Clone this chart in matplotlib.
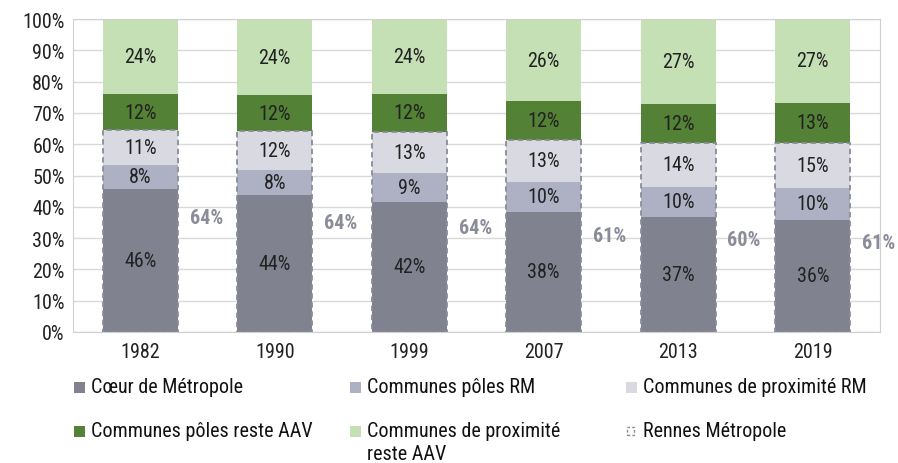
import matplotlib
matplotlib.use("Agg")
import matplotlib.pyplot as plt
from matplotlib.patches import Rectangle
import numpy as np

plt.rcParams['font.family'] = ['Roboto Condensed', 'IBM Plex Sans Condensed', 'DejaVu Sans']

years = ['1982', '1990', '1999', '2007', '2013', '2019']
coeur = [45.6, 43.8, 41.6, 38.4, 36.8, 35.9]
poles_rm = [7.9, 8.0, 9.3, 9.6, 9.6, 10.0]
prox_rm = [10.9, 12.4, 13.1, 13.4, 14.0, 14.6]
poles_aav = [11.6, 11.5, 12.1, 12.3, 12.3, 12.7]
prox_aav = [24.0, 24.3, 23.9, 26.3, 27.3, 26.8]
rennes = [64, 64, 64, 61, 60, 61]

series = [
    ('Cœur de Métropole', coeur, '#80838f'),
    ('Communes pôles RM', poles_rm, '#aeb0c4'),
    ('Communes de proximité RM', prox_rm, '#d9dae1'),
    ('Communes pôles reste AAV', poles_aav, '#538135'),
    ('Communes de proximité\nreste AAV', prox_aav, '#c5e0b4'),
]
rennes_color = '#8a8d99'
FS = 14.5

W, H = 898, 464
fig = plt.figure(figsize=(W / 100, H / 100), dpi=100)
ax = fig.add_axes([73 / W, 1 - 333 / H, (880 - 73) / W, (333 - 20) / H])

x = np.arange(len(years))
bw = 0.56
bottom = np.zeros(len(years))
for name, vals, col in series:
    vals = np.array(vals)
    ax.bar(x, vals, bw, bottom=bottom, color=col, zorder=2)
    for xi, b, v in zip(x, bottom, vals):
        ax.text(xi, b + v / 2, '%d%%' % round(v), ha='center', va='center',
                fontsize=FS, color='#222222', zorder=4)
    bottom += vals

# Rennes Métropole outline (first three groups)
rm_total = np.array(coeur) + np.array(poles_rm) + np.array(prox_rm)
ax.bar(x, rm_total, bw, facecolor='none', edgecolor=rennes_color,
       linestyle=(0, (3, 2)), linewidth=1.3, zorder=3)
for xi, v, c in zip(x, rennes, coeur):
    ax.text(xi + 0.49, c * 0.8, '%d%%' % v, ha='center', va='center',
            fontsize=FS, fontweight='bold', color=rennes_color, zorder=4,
            clip_on=False)

ax.set_xlim(-0.5, len(years) - 0.5)
ax.set_ylim(0, 100)
ax.set_yticks(np.arange(0, 101, 10))
ax.set_yticklabels(['%d%%' % t for t in range(0, 101, 10)])
ax.set_xticks(x)
ax.set_xticklabels(years)
ax.tick_params(axis='both', length=0, labelsize=FS, colors='#222222')
ax.tick_params(axis='x', pad=7)
ax.tick_params(axis='y', pad=6)
ax.grid(True, axis='y', color='#d9d9d9', lw=1, zorder=0)
ax.set_axisbelow(True)
for s in ax.spines.values():
    s.set_color('#d0d0d0')

# legend, laid out by hand like the original
cols = [74, 350, 626]
rows = [388, 432]
entries = [(s[0], s[2]) for s in series] + [('Rennes Métropole', None)]
for k, (name, col) in enumerate(entries):
    cx = cols[k % 3]
    cy = rows[k // 3]
    if col is not None:
        fig.patches.append(Rectangle((cx / W, 1 - (cy + 5.5) / H), 11 / W, 11 / H,
                                     transform=fig.transFigure, facecolor=col,
                                     edgecolor='none'))
    else:
        fig.patches.append(Rectangle(((cx + 1) / W, 1 - (cy + 4) / H), 7 / W, 8 / H,
                                     transform=fig.transFigure, facecolor='none',
                                     edgecolor=rennes_color, lw=1,
                                     linestyle=(0, (2, 1.5))))
    for j, line in enumerate(name.split('\n')):
        fig.text((cx + 17) / W, 1 - (cy + 23 * j) / H, line, ha='left',
                 va='center', fontsize=FS, color='#111111')

fig.savefig('out.png', dpi=100)
